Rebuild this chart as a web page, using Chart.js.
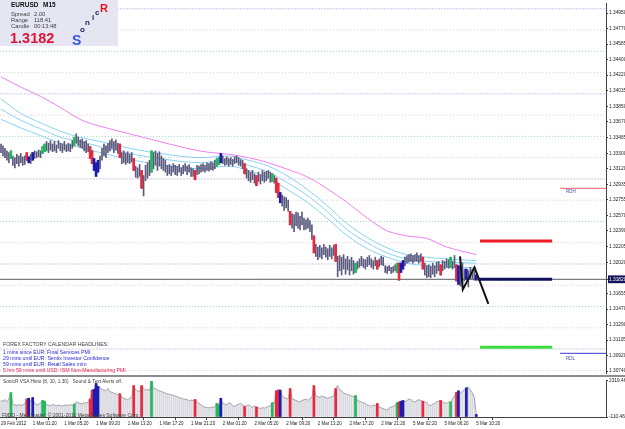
<!DOCTYPE html>
<html>
<head>
<meta charset="utf-8">
<script src="https://cdn.jsdelivr.net/npm/chart.js@4.4.1/dist/chart.umd.min.js"></script>
<style>
html,body{margin:0;padding:0;background:#fff;}
#wrap{position:relative;width:625px;height:429px;overflow:hidden;background:#fff;font-family:"Liberation Sans",Arial,sans-serif;}
canvas{position:absolute;left:0;}
#main{top:0;}
#sub{top:377px;}
.t{position:absolute;white-space:nowrap;font-size:5px;line-height:5px;color:#303030;}
#info{position:absolute;left:0;top:0;width:118px;height:46px;background:#e6e6f2;}
.b{font-weight:bold;}
</style>
</head>
<body>
<div id="wrap">
<canvas id="main" width="625" height="377" style="width:625px;height:377px"></canvas>
<canvas id="sub" width="625" height="52" style="width:625px;height:52px"></canvas>
<div style="position:absolute;left:0;top:375px;width:625px;height:2px;background:#8c8c8c"></div>
<div id="info"></div>
<div class="t b" style="left:11px;top:2px;font-size:6.5px;line-height:6.5px;color:#101010">EURUSD</div>
<div class="t b" style="left:43px;top:2px;font-size:6.5px;line-height:6.5px;color:#101010">M15</div>
<div class="t" style="left:11px;top:12px;font-size:5.8px;color:#404040">Spread</div>
<div class="t" style="left:34px;top:12px;font-size:5.8px;color:#404040">2.00</div>
<div class="t" style="left:11px;top:18px;font-size:5.8px;color:#404040">Range</div>
<div class="t" style="left:34px;top:18px;font-size:5.8px;color:#404040">118.41</div>
<div class="t" style="left:11px;top:24px;font-size:5.8px;color:#404040">Candle</div>
<div class="t" style="left:34px;top:24px;font-size:5.8px;color:#404040">00:13:48</div>
<div class="t b" style="left:10px;top:31px;font-size:14.5px;line-height:14.5px;color:#dc143c">1.3182</div>
<div class="t b" style="left:72px;top:33px;font-size:14px;line-height:14px;color:#3a55d6">S</div>
<div class="t b" style="left:80px;top:26px;font-size:8px;line-height:8px;color:#1c2450">o</div>
<div class="t b" style="left:85px;top:19px;font-size:8px;line-height:8px;color:#1c2450">n</div>
<div class="t b" style="left:92px;top:14px;font-size:8px;line-height:8px;color:#1c2450">i</div>
<div class="t b" style="left:95px;top:9px;font-size:8px;line-height:8px;color:#1c2450">c</div>
<div class="t b" style="left:100px;top:3px;font-size:11px;line-height:11px;color:#e8101c">R</div>

<div class="t" style="left:3px;top:342px;font-size:5.2px;color:#404040">FOREX FACTORY CALENDAR HEADLINES:</div>
<div class="t" style="left:3px;top:349.5px;font-size:5.2px;color:#2828c8">1 mins since EUR: Final Services PMI</div>
<div class="t" style="left:3px;top:355.5px;font-size:5.2px;color:#2828c8">29 mins until EUR: Sentix Investor Confidence</div>
<div class="t" style="left:3px;top:361.5px;font-size:5.2px;color:#2828c8">59 mins until EUR: Retail Sales m/m</div>
<div class="t" style="left:3px;top:367.5px;font-size:5.2px;color:#e0204c">5 hrs 59 mins until USD: ISM Non-Manufacturing PMI</div>

<div class="t" style="left:566px;top:189px;font-size:4.5px;color:#4050a0">RDH</div>
<div class="t" style="left:566px;top:356px;font-size:4.5px;color:#4050a0">RDL</div>

<div class="t" style="left:3px;top:379px;font-size:4.8px;color:#404040">SonicR VSA Histo (8, 10, 1.30)&nbsp;&nbsp;&nbsp;Sound &amp; Text Alerts off.</div>
<div class="t" style="left:2px;top:413px;font-size:5px;color:#404040">F9DD - MetaTrader, © 2001-2011 MetaQuotes Software Corp.</div>
</div>
<script>
// ---------- data ----------
const tickLabels = ['29 Feb 2012','1 Mar 01:20','1 Mar 05:20','1 Mar 09:20','1 Mar 13:20','1 Mar 17:20','1 Mar 21:20','2 Mar 01:20','2 Mar 05:20','2 Mar 09:20','2 Mar 13:20','2 Mar 17:20','2 Mar 21:20','5 Mar 02:20','5 Mar 06:20','5 Mar 10:20'];
const tickBars = [0,16,32,48,64,80,96,112,128,144,160,176,192,208,224,240];
const priceTicks = [1.34950,1.34770,1.34585,1.34400,1.34220,1.34035,1.33850,1.33670,1.33485,1.33300,1.33120,1.32935,1.32755,1.32570,1.32390,1.32205,1.32020,1.31820,1.31655,1.31470,1.31290,1.31105,1.30920,1.30740];
const currentPrice = 1.3182;
const volTicks = [2319.46, -110.46];

const highs = [
1.3341,1.3339,1.3336,1.3333,1.3331,1.3333,1.3327,1.3325,1.3329,1.3327,
1.3330,1.3326,1.3327,1.3331,1.3326,1.3329,1.3331,1.3333,1.3332,1.3334,
1.3333,1.3338,1.3341,1.3344,1.3342,1.3345,1.3341,1.3344,1.3340,1.3345,
1.3342,1.3341,1.3344,1.3340,1.3342,1.3341,1.3345,1.3349,1.3353,1.3349,
1.3346,1.3347,1.3344,1.3345,1.3341,1.3338,1.3333,1.3324,1.3319,1.3322,
1.3327,1.3336,1.3341,1.3339,1.3342,1.3345,1.3347,1.3344,1.3346,1.3342,
1.3341,1.3331,1.3333,1.3330,1.3332,1.3329,1.3331,1.3324,1.3315,1.3313,
1.3317,1.3310,1.3304,1.3316,1.3319,1.3322,1.3333,1.3331,1.3333,1.3330,
1.3332,1.3327,1.3324,1.3322,1.3316,1.3317,1.3315,1.3318,1.3316,1.3315,
1.3317,1.3313,1.3316,1.3318,1.3315,1.3317,1.3313,1.3312,1.3310,1.3316,
1.3315,1.3317,1.3318,1.3316,1.3319,1.3318,1.3320,1.3319,1.3322,1.3324,
1.3325,1.3330,1.3327,1.3324,1.3326,1.3324,1.3325,1.3323,1.3326,1.3327,
1.3325,1.3323,1.3322,1.3318,1.3312,1.3310,1.3308,1.3310,1.3306,1.3304,
1.3308,1.3305,1.3310,1.3308,1.3309,1.3310,1.3308,1.3306,1.3304,1.3301,
1.3295,1.3284,1.3281,1.3279,1.3278,1.3275,1.3262,1.3259,1.3258,1.3261,
1.3260,1.3256,1.3261,1.3254,1.3252,1.3254,1.3251,1.3246,1.3233,1.3223,
1.3220,1.3222,1.3219,1.3223,1.3220,1.3218,1.3222,1.3219,1.3222,1.3223,
1.3209,1.3210,1.3208,1.3211,1.3206,1.3209,1.3205,1.3208,1.3204,1.3201,
1.3203,1.3206,1.3209,1.3206,1.3205,1.3208,1.3210,1.3206,1.3204,1.3208,
1.3204,1.3206,1.3209,1.3208,1.3198,1.3197,1.3198,1.3196,1.3197,1.3199,
1.3201,1.3201,1.3201,1.3204,1.3208,1.3210,1.3211,1.3212,1.3210,1.3211,
1.3213,1.3210,1.3212,1.3208,1.3201,1.3198,1.3199,1.3197,1.3201,1.3198,
1.3202,1.3203,1.3199,1.3204,1.3203,1.3206,1.3205,1.3208,1.3203,1.3210,
1.3199,1.3198,1.3196,1.3201,1.3194,1.3194,1.3192,1.3196,1.3194,1.3192,
1.3187];
const lows = [
1.3331,1.3327,1.3325,1.3322,1.3319,1.3324,1.3316,1.3313,1.3318,1.3315,
1.3319,1.3316,1.3317,1.3322,1.3319,1.3318,1.3322,1.3324,1.3325,1.3326,
1.3325,1.3330,1.3332,1.3333,1.3331,1.3334,1.3332,1.3333,1.3331,1.3336,
1.3333,1.3331,1.3334,1.3332,1.3333,1.3332,1.3336,1.3339,1.3342,1.3339,
1.3337,1.3336,1.3333,1.3331,1.3332,1.3324,1.3318,1.3310,1.3303,1.3308,
1.3312,1.3322,1.3327,1.3325,1.3331,1.3333,1.3336,1.3331,1.3334,1.3330,
1.3325,1.3318,1.3319,1.3317,1.3319,1.3318,1.3320,1.3310,1.3302,1.3301,
1.3303,1.3289,1.3280,1.3298,1.3301,1.3304,1.3308,1.3312,1.3316,1.3310,
1.3315,1.3312,1.3310,1.3308,1.3304,1.3306,1.3304,1.3308,1.3305,1.3304,
1.3308,1.3304,1.3306,1.3309,1.3305,1.3308,1.3303,1.3303,1.3299,1.3305,
1.3306,1.3308,1.3309,1.3308,1.3310,1.3309,1.3311,1.3310,1.3312,1.3315,
1.3317,1.3319,1.3318,1.3316,1.3317,1.3315,1.3317,1.3315,1.3318,1.3319,
1.3316,1.3315,1.3312,1.3306,1.3301,1.3298,1.3296,1.3299,1.3295,1.3292,
1.3297,1.3294,1.3298,1.3296,1.3298,1.3301,1.3296,1.3297,1.3295,1.3284,
1.3278,1.3272,1.3268,1.3263,1.3266,1.3262,1.3246,1.3242,1.3238,1.3245,
1.3242,1.3240,1.3246,1.3240,1.3241,1.3242,1.3238,1.3229,1.3213,1.3209,
1.3205,1.3208,1.3206,1.3211,1.3208,1.3205,1.3209,1.3206,1.3210,1.3203,
1.3185,1.3192,1.3187,1.3194,1.3188,1.3193,1.3187,1.3192,1.3188,1.3190,
1.3194,1.3196,1.3198,1.3196,1.3194,1.3197,1.3199,1.3196,1.3194,1.3198,
1.3194,1.3197,1.3199,1.3198,1.3190,1.3189,1.3192,1.3189,1.3190,1.3192,
1.3190,1.3181,1.3190,1.3194,1.3198,1.3201,1.3202,1.3203,1.3201,1.3203,
1.3203,1.3201,1.3203,1.3194,1.3187,1.3184,1.3185,1.3184,1.3188,1.3185,
1.3189,1.3192,1.3187,1.3192,1.3194,1.3196,1.3195,1.3196,1.3194,1.3196,
1.3180,1.3176,1.3174,1.3177,1.3180,1.3182,1.3173,1.3182,1.3183,1.3181,
1.3181];
const volumes = [
1000,950,1050,900,1100,1530,750,700,650,720,
680,700,760,1100,1150,900,1200,800,700,750,
820,1000,950,700,680,650,720,690,640,700,
660,620,680,700,650,720,680,760,900,850,
800,780,850,820,900,1100,1700,1750,2150,1950,
1850,1750,1700,1650,1800,1600,1550,1500,1450,1400,
1450,1200,1150,1100,1050,1150,1200,2000,1700,1650,
1600,2000,1800,1700,1750,1650,2300,1800,1780,1700,
1650,1600,1550,1500,1450,1420,1380,1350,1300,1250,
1200,1150,1100,1080,1050,1000,1020,980,1070,900,
800,700,600,550,520,500,540,560,530,800,
700,1150,800,750,700,850,800,650,600,700,
750,800,700,600,650,700,600,550,620,560,
500,450,520,480,550,600,650,850,800,1650,
1700,1700,1300,1200,1150,1100,1800,1100,1050,1000,
950,900,1000,1050,1100,1000,1150,1200,2000,1300,
1250,1200,1300,1250,1200,1150,1200,1250,1300,1800,
2000,1700,1650,1500,1450,1400,1350,1300,1250,1330,
1000,950,900,850,800,700,650,600,700,650,
800,550,500,450,400,350,500,550,600,650,
850,900,950,1000,900,1000,1100,1050,950,900,
1000,1050,1000,950,900,850,700,650,750,800,
900,950,1000,900,850,800,900,900,1100,1300,
1550,1650,1500,1600,1750,1850,1900,1700,1500,1200,
60];
// VSA signal bars (bar indices)
const redBars = [13,45,46,60,67,71,98,123,129,139,140,146,158,169,190,201,213,222,230];
const blueBars = [14,16,47,48,49,111,141,202,203,231,235,240];
const greenBars = [5,21,22,37,76,109,110,137,179,200,227];

// moving averages sampled at bar indices
const maBars = [0,10,20,30,40,50,65,80,100,115,125,135,145,155,165,175,185,195,205,215,225,240];
const emaHigh  = [1.3394,1.3377,1.3366,1.3356,1.3349,1.3344,1.3336,1.3330,1.3325,1.3327,1.3322,1.3315,1.3303,1.3287,1.3268,1.3247,1.3231,1.3219,1.3211,1.3208,1.3206,1.3204];
const emaClose = [1.3382,1.3369,1.3359,1.3349,1.3344,1.3338,1.3330,1.3324,1.3319,1.3322,1.3316,1.3308,1.3295,1.3280,1.3261,1.3240,1.3225,1.3213,1.3206,1.3203,1.3202,1.3201];
const emaLow   = [1.3370,1.3360,1.3351,1.3342,1.3337,1.3331,1.3323,1.3317,1.3312,1.3315,1.3310,1.3301,1.3287,1.3272,1.3253,1.3233,1.3218,1.3208,1.3201,1.3198,1.3196,1.3196];
const ema89    = [1.3420,1.3408,1.3397,1.3384,1.3370,1.3362,1.3353,1.3344,1.3333,1.3329,1.3325,1.3319,1.3311,1.3302,1.3288,1.3272,1.3254,1.3239,1.3233,1.3230,1.3220,1.3211];

// quarter-point levels
const levels = [1.3500,1.3475,1.3450,1.3425,1.3400,1.3375,1.3350,1.3325,1.3300,1.3275,1.3250,1.3225,1.3200,1.3175,1.3150,1.3125,1.3100,1.3075];

// projection / zigzag
const zigBars = [231.8,233.2,239.1,246.1];
const zigPrices = [1.3209,1.3170,1.3196,1.3153];
const projBars = [241.9,278.3];
const pivotBars = [240.9,278.3];
const projHigh = 1.3227, projLow = 1.3102;
const rdBars = [282.3,305.5];
const rdh = 1.3289, rdl = 1.3095;

// ---------- build ----------
const X_MIN = -0.5, X_MAX = 305.5;
const idx = highs.map((_, i) => i);
const sig = i => redBars.includes(i) ? 'r' : blueBars.includes(i) ? 'b' : greenBars.includes(i) ? 'g' : '';
const sigColor = {r:'#e8283c', b:'#1c1cb0', g:'#22b85c'};
const sigIdx = idx.filter(i => sig(i));
const seg = (x0, x1, y) => [{x:x0, y}, {x:x1, y}];
const lineDS = (data, color, width, order, extra) => Object.assign({type:'line', data, borderColor:color, borderWidth:width, pointRadius:0, order, fill:false}, extra || {});

const levelSets = levels.map(v => {
  const p = Math.round(v * 10000) % 100;
  const col = p === 0 ? '#cacaf2' : p === 50 ? '#9adcba' : '#f2c8ce';
  return lineDS(seg(X_MIN, X_MAX, v), col, 1, 30, {borderDash: p === 0 ? [2,1] : [1,2]});
});

const baseFont = {family:'Liberation Sans', size:4.8};

new Chart(document.getElementById('main'), {
  type: 'bar',
  data: {
    datasets: [
      ...levelSets,
      lineDS(maBars.map((b,k)=>({x:b,y:ema89[k]})), '#f07ef0', 1, 12, {tension:0.35}),
      lineDS(maBars.map((b,k)=>({x:b,y:emaHigh[k]})), '#86d2f2', 1, 11, {tension:0.35}),
      lineDS(maBars.map((b,k)=>({x:b,y:emaClose[k]})), '#86d2f2', 1, 11, {tension:0.35}),
      lineDS(maBars.map((b,k)=>({x:b,y:emaLow[k]})), '#86d2f2', 1, 11, {tension:0.35}),
      lineDS(seg(X_MIN, X_MAX, currentPrice), '#5a5a5a', 1, 10),
      {type:'bar', data: idx.map(i => ({x:i, y:[lows[i], highs[i]]})), backgroundColor:'#5a5a7e', barThickness:1, grouped:false, order:8},
      {type:'bar', data: sigIdx.map(i => ({x:i, y:[lows[i], highs[i]]})), backgroundColor: ctx => sigColor[sig(ctx.raw ? ctx.raw.x : -1)] || '#888', barThickness:2, grouped:false, order:7},
      lineDS(seg(projBars[0], projBars[1], projHigh), '#ee1c24', 3, 3),
      lineDS(seg(pivotBars[0], pivotBars[1], currentPrice), '#10105c', 3, 3),
      lineDS(seg(projBars[0], projBars[1], projLow), '#3cdc3c', 3, 3),
      lineDS(seg(rdBars[0], rdBars[1], rdh), '#f05a64', 1, 3),
      lineDS(seg(rdBars[0], rdBars[1], rdl), '#3838d0', 1, 3),
      lineDS(zigBars.map((b,k)=>({x:b,y:zigPrices[k]})), '#101010', 2, 1)
    ]
  },
  options: {
    animation:false, responsive:false, events:[],
    layout:{padding:{top:2, bottom:2, left:0, right:0}},
    plugins:{legend:{display:false}, tooltip:{enabled:false}},
    scales:{
      x:{type:'linear', min:X_MIN, max:X_MAX, offset:false, ticks:{display:false}, grid:{display:false}, border:{display:false}, afterFit(s){ s.height = 0; }},
      y:{position:'right', min:1.30717, max:1.35058,
         afterBuildTicks(s){ s.ticks = priceTicks.map(v => ({value:v})); },
         afterFit(s){ s.width = 19; },
         ticks:{font:baseFont, padding:1, autoSkip:false,
                color: ctx => (ctx.tick && Math.abs(ctx.tick.value - currentPrice) < 1e-7) ? '#ffffff' : '#202020',
                showLabelBackdrop: ctx => !!(ctx.tick && Math.abs(ctx.tick.value - currentPrice) < 1e-7),
                backdropColor:'#12125a', backdropPadding:{top:1,bottom:1,left:1,right:3},
                callback: v => Number(v).toFixed(5)},
         grid:{drawOnChartArea:false, tickLength:2, color:'#404040'},
         border:{color:'#404040'}}
    }
  }
});

new Chart(document.getElementById('sub'), {
  type: 'bar',
  data: {
    datasets: [
      {type:'bar', data: idx.map(i => ({x:i, y:volumes[i]})), backgroundColor:'#d8d8e0', barThickness:1, grouped:false, base:volTicks[1], order:5},
      lineDS(idx.map(i => ({x:i, y:volumes[i]})), '#a6a6ae', 1, 4),
      {type:'bar', data: sigIdx.map(i => ({x:i, y:volumes[i]})), backgroundColor: ctx => sigColor[sig(ctx.raw ? ctx.raw.x : -1)] || '#888', barThickness:2, grouped:false, base:volTicks[1], order:3}
    ]
  },
  options: {
    animation:false, responsive:false, events:[],
    layout:{padding:{top:3, bottom:0, left:0, right:0}},
    plugins:{legend:{display:false}, tooltip:{enabled:false}},
    scales:{
      x:{type:'linear', min:X_MIN, max:X_MAX, offset:false,
         afterBuildTicks(s){ s.ticks = tickBars.map(v => ({value:v})); },
         afterFit(s){ s.height = 12; },
         ticks:{font:{family:'Liberation Sans', size:4.5}, color:'#202020', align:'start', autoSkip:false, maxRotation:0, padding:1,
                callback:(v, i) => tickLabels[i]},
         grid:{drawOnChartArea:false, tickLength:3, color:'#404040'},
         border:{color:'#404040'}},
      y:{position:'right', min:volTicks[1], max:volTicks[0],
         afterBuildTicks(s){ s.ticks = volTicks.map(v => ({value:v})); },
         afterFit(s){ s.width = 19; },
         ticks:{font:baseFont, color:'#202020', padding:1, callback: v => Number(v).toFixed(2)},
         grid:{drawOnChartArea:false, tickLength:2, color:'#404040'},
         border:{color:'#404040'}}
    }
  }
});
</script>
</body>
</html>
